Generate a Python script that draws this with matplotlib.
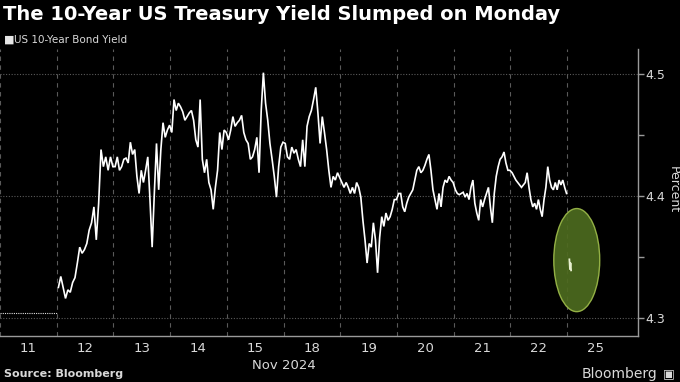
import matplotlib
matplotlib.use("Agg")
import matplotlib.pyplot as plt
from matplotlib.patches import Ellipse
from matplotlib import font_manager as fm
import numpy as np

# ---- data ----
day_labels = ["11", "12", "13", "14", "15", "18", "19", "20", "21", "22", "25"]
nov11_flat = 4.304  # market closed (Veterans Day), previous close carried

nov12 = [4.325, 4.334, 4.325, 4.316, 4.323, 4.321, 4.329, 4.333, 4.345, 4.358, 4.353, 4.356,
         4.361, 4.372, 4.378, 4.391, 4.364, 4.394, 4.438, 4.424, 4.432, 4.421, 4.432, 4.424]
nov13 = [4.424, 4.432, 4.421, 4.424, 4.430, 4.431, 4.427, 4.444, 4.434, 4.438, 4.416, 4.402,
         4.421, 4.411, 4.421, 4.432, 4.397, 4.358, 4.402, 4.443, 4.405, 4.438, 4.460, 4.448,
         4.454, 4.458]
nov14 = [4.452, 4.479, 4.470, 4.476, 4.473, 4.469, 4.462, 4.465, 4.468, 4.470, 4.462, 4.446,
         4.440, 4.479, 4.430, 4.419, 4.430, 4.411, 4.405, 4.389, 4.407, 4.421, 4.452, 4.438,
         4.454, 4.452]
nov15 = [4.446, 4.454, 4.465, 4.457, 4.460, 4.462, 4.466, 4.452, 4.446, 4.443, 4.430, 4.432,
         4.438, 4.448, 4.419, 4.470, 4.501, 4.476, 4.462, 4.443, 4.430, 4.416, 4.399, 4.424,
         4.440, 4.444]
nov18 = [4.443, 4.432, 4.430, 4.440, 4.435, 4.438, 4.430, 4.424, 4.446, 4.424, 4.457, 4.465,
         4.470, 4.479, 4.489, 4.468, 4.443, 4.465, 4.452, 4.438, 4.421, 4.407, 4.416, 4.413,
         4.419, 4.415]
nov19 = [4.411, 4.407, 4.411, 4.407, 4.402, 4.407, 4.402, 4.411, 4.407, 4.399, 4.380, 4.364,
         4.345, 4.361, 4.358, 4.378, 4.364, 4.337, 4.366, 4.383, 4.375, 4.386, 4.380, 4.383,
         4.389, 4.397, 4.397]
nov20 = [4.402, 4.402, 4.391, 4.387, 4.394, 4.399, 4.402, 4.405, 4.413, 4.421, 4.424, 4.419,
         4.421, 4.425, 4.430, 4.434, 4.421, 4.405, 4.397, 4.389, 4.402, 4.391, 4.407, 4.413,
         4.411, 4.416, 4.413, 4.411]
nov21 = [4.405, 4.402, 4.401, 4.402, 4.403, 4.399, 4.402, 4.397, 4.407, 4.413, 4.394, 4.386,
         4.380, 4.397, 4.391, 4.397, 4.402, 4.407, 4.391, 4.378, 4.402, 4.416, 4.424, 4.430,
         4.432, 4.436, 4.427, 4.421, 4.421]
nov22 = [4.419, 4.416, 4.413, 4.411, 4.409, 4.407, 4.409, 4.411, 4.419, 4.407, 4.397, 4.391,
         4.394, 4.389, 4.397, 4.389, 4.383, 4.397, 4.407, 4.424, 4.413, 4.407, 4.405, 4.411,
         4.405, 4.413, 4.409, 4.413, 4.407, 4.402]
nov25 = [4.348, 4.340, 4.345, 4.339]

y_ticks = [4.3, 4.4, 4.5]

# ---- fonts ----
names = {f.name for f in fm.fontManager.ttflist}
narrow = "Liberation Sans Narrow" if "Liberation Sans Narrow" in names else "DejaVu Sans"

BG = "#000000"
TXT = "#d9d9d9"
GRID = "#5a5a5a"

fig = plt.figure(figsize=(6.8, 3.82), dpi=100, facecolor=BG)
ax = fig.add_axes([0.0, 1 - 336 / 382, 638 / 680, (336 - 49) / 382])
ax.set_facecolor(BG)

# trading-day series
series = [nov12, nov13, nov14, nov15, nov18, nov19, nov20, nov21, nov22]
xs, ys = [], []
for i, vals in enumerate(series, start=1):
    n = len(vals)
    xs.extend(list(np.linspace(i + 0.03, i + 0.99, n)))
    ys.extend(vals)
ax.plot(xs, ys, color="white", lw=1.2, solid_joinstyle="miter", zorder=3)

# Nov 11 flat (market closed)
ax.plot([0.0, 1.0], [nov11_flat, nov11_flat], color="#e0e0e0", lw=0.8,
        linestyle=(0, (1, 1)), zorder=3)

# highlight ellipse
ax.add_patch(Ellipse((10.17, 4.3474), width=0.81, height=0.0845,
                     facecolor="#4d6b1f", edgecolor="#9dbb4a", lw=1.0, alpha=0.92, zorder=4))

# Nov 25 opening ticks (drawn over the highlight)
x25 = np.linspace(10.04, 10.07, len(nov25))
ax.plot(x25, nov25, color="#e8f0d0", lw=1.3, zorder=5)

ax.set_xlim(0, 11.25)
ax.set_ylim(4.2852, 4.5204)

# grids
for xv in range(0, 11):
    ax.axvline(xv, color=GRID, lw=0.8, linestyle=(0, (4, 4)), zorder=1)
for yv in y_ticks:
    ax.axhline(yv, color=GRID, lw=0.8, linestyle=(0, (1, 1.5)), zorder=1)

# spines
for s in ["top", "left"]:
    ax.spines[s].set_visible(False)
for s in ["right", "bottom"]:
    ax.spines[s].set_color("#9a9a9a")
    ax.spines[s].set_linewidth(1.0)

# y axis on the right
ax.yaxis.tick_right()
ax.set_yticks(y_ticks)
ax.set_yticklabels([f"{v:.1f}" for v in y_ticks])
ax.set_yticks([4.35, 4.45], minor=True)
ax.tick_params(axis="y", which="both", colors="#9a9a9a", labelcolor=TXT, length=4,
               width=1, direction="out", pad=1.5, labelsize=9)
for lab in ax.get_yticklabels():
    lab.set_family(narrow)
fig.text(673 / 680, 1 - 190 / 382, "Percent", color=TXT, fontsize=9, rotation=270,
         ha="center", va="center", family=narrow)

# x axis
ax.set_xticks(np.arange(len(day_labels)) + 0.5)
ax.set_xticklabels(day_labels)
ax.tick_params(axis="x", length=0, colors=TXT, labelsize=9.5, pad=4)
for lab in ax.get_xticklabels():
    lab.set_family(narrow)
ax.text(5.0, -0.08, "Nov 2024", transform=ax.get_xaxis_transform(), ha="center", va="top",
        color=TXT, fontsize=9.5, family=narrow)

# title, legend, footer
fig.text(0.004, 1 - 15 / 382, "The 10-Year US Treasury Yield Slumped on Monday",
         color="white", fontsize=14, fontweight="bold", va="center", ha="left")
fig.text(0.006, 1 - 40 / 382, "\u25A0", color="#e6e6e6", fontsize=8, va="center", ha="left")
fig.text(0.021, 1 - 40 / 382, "US 10-Year Bond Yield", color=TXT, fontsize=7.5,
         va="center", ha="left", family=narrow)
fig.text(0.006, 1 - 374 / 382, "Source: Bloomberg", color=TXT, fontsize=8,
         fontweight="bold", va="center", ha="left")
fig.text(0.966, 1 - 374 / 382, "Bloomberg", color=TXT, fontsize=10,
         va="center", ha="right", family=narrow)
fig.text(0.984, 1 - 374 / 382, "\u25A3", color=TXT, fontsize=9, va="center", ha="center")

fig.savefig("out.png", dpi=100, facecolor=BG)
